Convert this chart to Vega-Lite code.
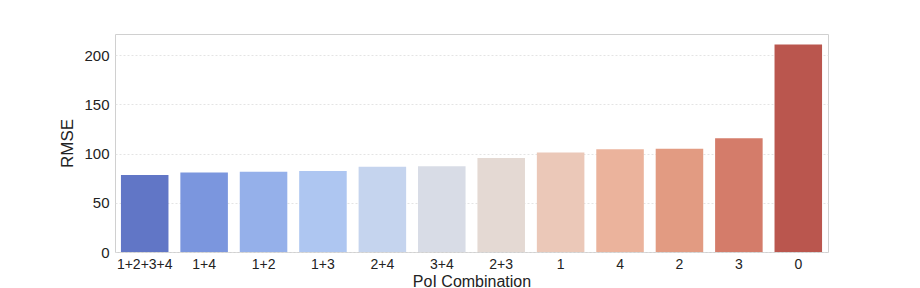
{
  "$schema": "https://vega.github.io/schema/vega-lite/v6.json",
  "width": 713,
  "height": 218,
  "autosize": {"type": "none"},
  "padding": {"left": 115, "top": 34, "right": 92, "bottom": 36},
  "background": "white",
  "config": {
    "font": "Liberation Sans",
    "view": {"stroke": "#d0d0d0", "strokeWidth": 1}
  },
  "data": {
    "values": [
      {"combo": "1+2+3+4", "rmse": 78.3, "color": "#6176c6"},
      {"combo": "1+4", "rmse": 80.9, "color": "#7b96de"},
      {"combo": "1+2", "rmse": 81.6, "color": "#95b0ea"},
      {"combo": "1+3", "rmse": 82.3, "color": "#aec6f1"},
      {"combo": "2+4", "rmse": 86.5, "color": "#c5d4ee"},
      {"combo": "3+4", "rmse": 87.0, "color": "#d8dce6"},
      {"combo": "2+3", "rmse": 95.6, "color": "#e4d9d3"},
      {"combo": "1", "rmse": 101.0, "color": "#ebc8b8"},
      {"combo": "4", "rmse": 104.4, "color": "#ebb39c"},
      {"combo": "2", "rmse": 104.8, "color": "#e29b82"},
      {"combo": "3", "rmse": 115.6, "color": "#d47c6a"},
      {"combo": "0", "rmse": 210.8, "color": "#ba564e"}
    ]
  },
  "mark": {"type": "bar"},
  "encoding": {
    "x": {
      "field": "combo", "type": "nominal", "sort": null,
      "scale": {"paddingInner": 0.2, "paddingOuter": 0.1},
      "axis": {
        "title": "PoI Combination", "labelAngle": 0, "labelFontSize": 14, "labelColor": "#222",
        "titleFontSize": 16, "titleFontWeight": "normal", "titleColor": "#222", "titlePadding": 2,
        "ticks": false, "labelPadding": 5, "domain": false
      }
    },
    "y": {
      "field": "rmse", "type": "quantitative",
      "scale": {"domain": [0, 221.5], "nice": false},
      "axis": {
        "title": "RMSE", "values": [0, 50, 100, 150, 200], "labelFontSize": 15, "labelColor": "#222",
        "titleFontSize": 17, "titleFontWeight": "normal", "titleColor": "#222", "titlePadding": 7,
        "ticks": false, "labelPadding": 6, "domain": false,
        "grid": true, "gridColor": "#dddddd", "gridDash": [2, 2], "gridWidth": 0.8
      }
    },
    "color": {"field": "color", "type": "nominal", "scale": null, "legend": null}
  }
}
